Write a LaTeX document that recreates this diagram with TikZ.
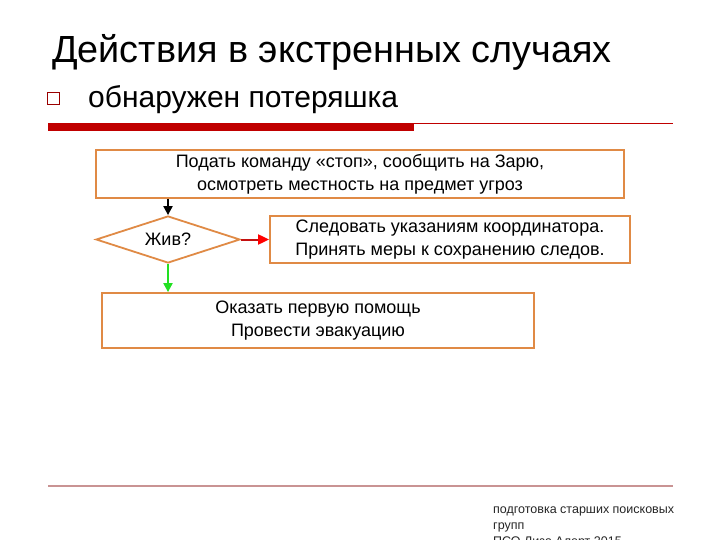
\documentclass[tikz,border=0pt]{standalone}
\usepackage{fontspec}
\setmainfont{Liberation Sans}
\usetikzlibrary{shapes.geometric,arrows.meta}
\definecolor{boxor}{HTML}{E08A45}
\definecolor{barred}{HTML}{C00000}
\definecolor{footline}{HTML}{C99393}
\definecolor{okgreen}{HTML}{22E022}
\definecolor{linered}{HTML}{C41010}
\tikzset{
  boxnode/.style={draw=boxor, line width=1.8pt, fill=white, align=center, font=\fontsize{18}{23}\selectfont, inner sep=0pt},
  conn/.style={line width=2pt, -{Triangle[length=9pt,width=9pt]}},
}
\begin{document}
\begin{tikzpicture}[x=1pt,y=-1pt]
\useasboundingbox (0,0) rectangle (720,540);
\fill[white] (0,0) rectangle (720,540);
% title
\node[anchor=base west, inner sep=0pt, font=\fontsize{37.8}{40}\selectfont] (title) at (52,63) {Действия в экстренных случаях};
% bullet and subtitle
\node[draw=barred!80!black, line width=0.7pt, minimum width=12pt, minimum height=12pt, inner sep=0pt] (bullet) at (53,98) {};
\node[anchor=base west, inner sep=0pt, font=\fontsize{30}{32}\selectfont] (sub) at (88,108) {обнаружен потеряшка};
% red bar
\fill[barred] (48,123) rectangle (414,131);
\draw[barred, line width=0.8pt] (414,123.5) -- (673,123.5);
% boxes
\node[boxnode, minimum width=528pt, minimum height=48pt] (b1) at (360,174) {Подать команду «стоп», сообщить на Зарю,\\осмотреть местность на предмет угроз};
\node[draw=boxor, line width=1.8pt, diamond, aspect=3, minimum width=144pt, minimum height=47pt, inner sep=0pt, font=\fontsize{18}{20}\selectfont] (d) at (168,239.5) {Жив?};
\node[boxnode, minimum width=360pt, minimum height=47pt] (b2) at (450,239.5) {Следовать указаниям координатора.\\Принять меры к сохранению следов.};
\node[boxnode, minimum width=432pt, minimum height=55pt] (b3) at (318,320.5) {Оказать первую помощь\\Провести эвакуацию};
% connectors
\draw[conn, black] (b1.south -| d.north) -- (d.north);
\draw[conn, linered, -{Triangle[length=11pt,width=10pt,fill=red,color=red]}] (d.east) -- (b2.west);
\draw[conn, okgreen] (d.south) -- (d.south |- b3.north);
% footer line
\draw[footline, line width=2pt] (48,486) -- (673,486);
\node[anchor=north west, inner sep=0pt, align=left, font=\fontsize{12.5}{16}\selectfont, text=black!85] (foot) at (493,507) {подготовка старших поисковых\\групп\\ПСО Лиза Алерт 2015};
\end{tikzpicture}
\end{document}
